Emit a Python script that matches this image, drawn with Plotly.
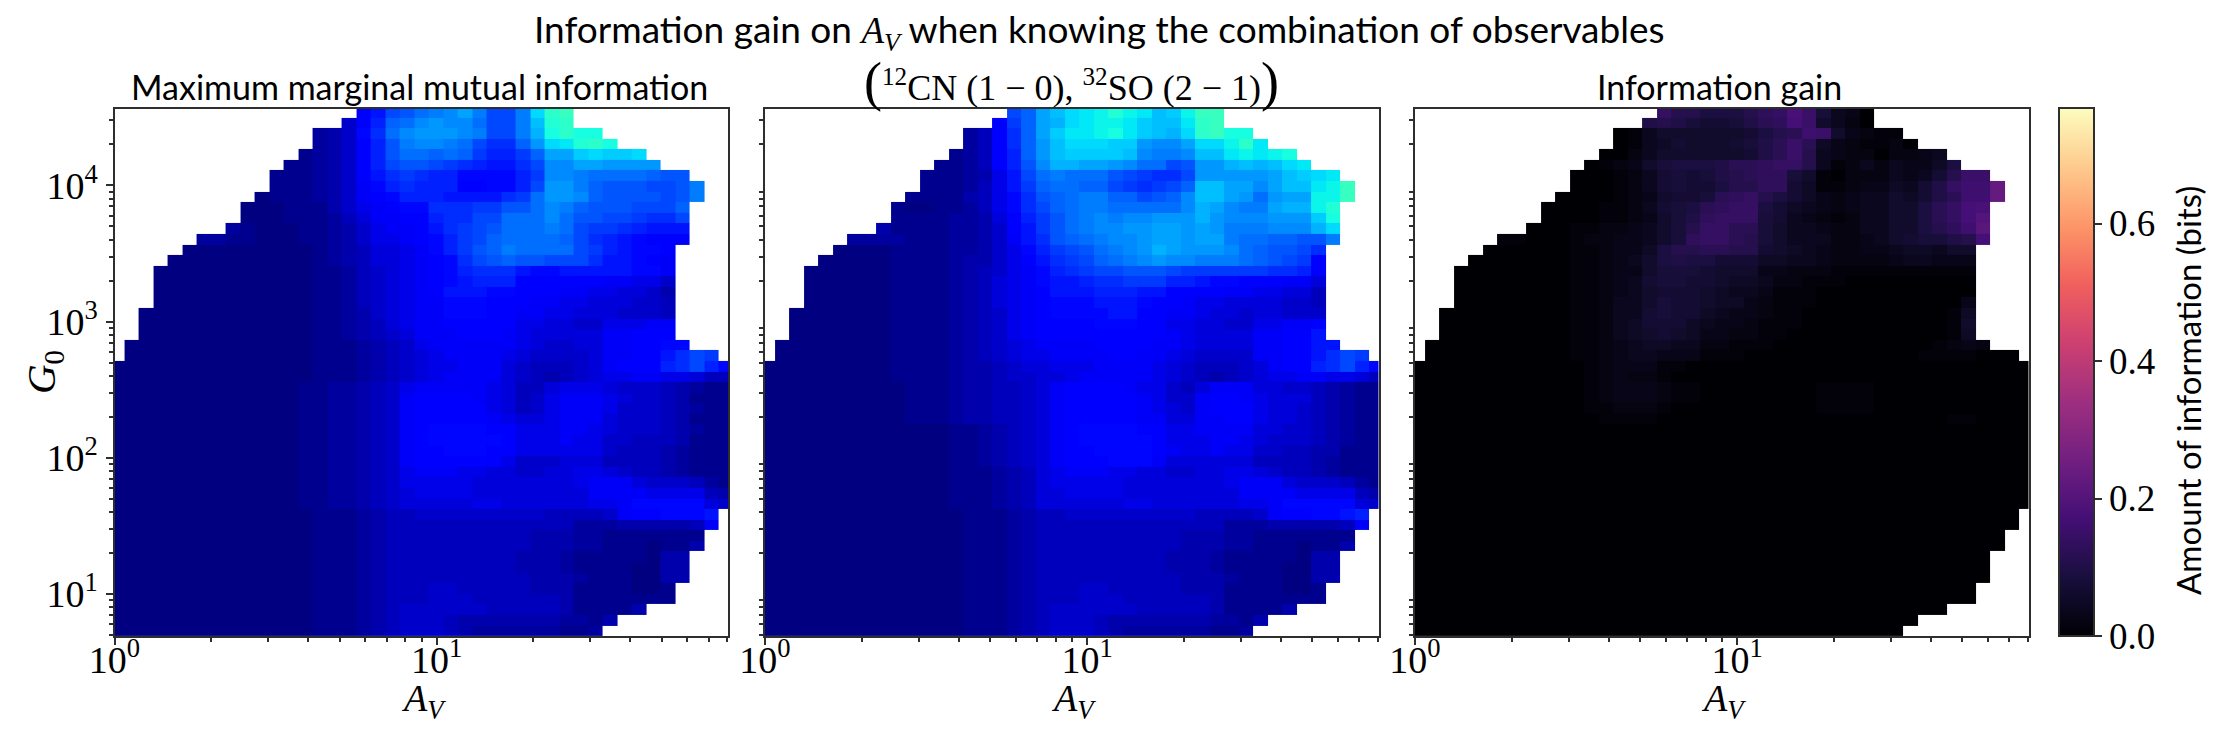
import numpy as np
import plotly.graph_objects as go

N_COLS = 43
ROW_START = [17,16,14,14,13,12,11,11,10,9,9,8,6,5,4,3,3,3,3,2,2,2,1,1] + [0]*26

# cell values, top row first, one base-36 character per cell, in 0.01 bit; spaces are only for reading
MARGINAL = [
"9bfgijkmjffjqvw","59chiklkkiffjouv","235adiklllkjffjntvtt","2359cgjkkjifddhlqruvt",
"12359cgiihiheccehmmpqppq","112359cfggfedcbbdfkkmmllll","1112359bdedccaaaacekkjiiiihgg",
"1112358acdccc99aacflljhgggffgj","011123589acccbbbbdeillkhggggfgj","00011135789aadddeeggikjhgggfffh",
"0001112468899cddffiiikiggffeddf","21000112357889bdefgiiijifeedcbbb","2211000112357789acefhiiiihfdcba999",
"00000 0000 1234 6678 acegh jiiii fecb aa9",
"00000 00000 1234 6678 9adfg hggff fdbba 98",
"000000 00000 11 24 5678 9acddd baabbbbb aa8",
"000000 00000 11 24 5678 9abccc 999999 8877 5",
"000000 00000 11 24 5678 9bbbaa 99988 77 66 5 3",
"000000 00000 11 24 5678 8aaa99 98877 666 55 4",
"0000000 00000 11 23 5678 8aaa99 8877 666 555 4",
"0000000 00000 11 23 4678 899999 7766 55 777 88",
"0000000 00000 11 23 4568 889998 76666 6 88 999",
"00000000 00000 11 12 3457 888888 7655 66 88 99 aa",
"00000000 00000 11 12 3456 788887 65555 6 88 99 bdfe",
"000000000 00000 11 12 3456 778886 54445 6 8 999 cdfca",
"000000000 00000 11 12 3456 788886 54345 6 77 88 77644",
"0000000000000 1122345 78888876 4467 77 6 555 4 3 2 1 1",
"0000000000000 1122345 89999876 4578 88 7 655 4 3 1 1 1",
"0000000000000 1122345 89999976 4578 88 7 555 4 3 2 1 1",
"0000000000000 1122345 89999987 6678 88 6 555 4 3 1 1 1",
"0000000000000 1122345 89aaaa99 7778 87 6 555 4 3 2 1 1",
"0000000000000 1122345 89aaaaa9 7778 77 5 544 4 3 1 1 1",
"0000000000000 1122345 899aaa99 7777 77 5 444 3 2 1 1 1",
"0000000000000 1122345 89999997 5556 66 4 444 3 2 1 1 1",
"0000000000000 1122345 78887766 5566 77 6 544 3 2 1 1 1",
"0000000000000 1122345 77777666 6666 78 8 865 5 5 4 2 1 1",
"0000000000000 1122345 67777666 6666 68 8 887 7 7 7 4 3 2",
"0000000000000 1122345 66666776 6666 67 7 8aa a a a 6 5 5",
"0000000000000 0111234 45555555 5544 44 5 899 a a a b",
"0000000000000 0111234 44444444 4444 22 2 333 3 3 4 8",
"0000000000000 0111234 44444444 4333 22 1 111 1 1 1",
"0000000000000 0111234 44444444 4333 22 1 110 1 1 3",
"0000000000000 0111234 44444444 3332 11 1 110 3 3",
"0000000000000 0111234 44444444 3332 11 1 100 3 3",
"0000000000000 0111234 44444444 4333 21 1 100 3 3",
"0000000000000 0111234 44554444 4333 11 1 100 1",
"0000000000000 0111234 44555444 4443 11 1 111 1",
"0000000000000 0111234 55555544 4443 11 1 13",
"0000000000000 0111234 55543333 3332 21 3",
"0000000000000 0111234 55543222 2221 12",
]

COMBINED = [
"fhmoqrsusropsww","9ehmnqrssrpoorvw","249dhmprrstrponqvwtt","249dhloqqqpplkkmqqsvr",
"1249chloppppokjjkoorsrst","11249cgknnmmlkiifgllnonoqr","111237bfijiiigfeddflllllmopqr",
"1112 47be hiih hfed efh oomm kmoo rsw","1111 347a dghi jjhhf ghk oom li lmm ssw",
"10011 247a dfhi jjiii iikn mkjj mnn su","1111 2236 9ceg ijk jkkl lln lkkk lll pt",
"31111 2235 9beg ijkk llmm lml jjj kkk nq","2222111 2235 8bdg hijkk lmmlmm jiihhggj",
"00001111 2235 7ace fgijk lnm lll kihggfd",
"000001111 2335 79bd efhij kl kk jjj ihgfe 9",
"0000001111 23457 8acde ffggg feeeeee ddc9",
"0000001111 23467 8abbc ddeee ccbaa 99988 6",
"0000001111 23467 89bbb cccbb 9999 88 77 66 4",
"0000001111 23467 89aaa bbba9 98 77 6666 55 4",
"00000001111 23457 89aaa abb99 88 7 66 5 66 555",
"00000001111 23457 89999 aaa99 77 66 55 77 88 9",
"00000001111 23457 89999 99999 87 6666 88 99 b",
"000000001111 2345 6788 88 9999 88 7 6666 88 99 bb",
"000000001111 2345 6778 888 99 88 7 65555 88 99 bdfe",
"0000000001111 233456 67 7 7 8888 7 6 5 444 5 6 8 99 cdfca",
"0000000001111 233455 66 7 8 8888 7 6 5 434 5 6 77 88 77644",
"0000000000111 2334456 89999877 5468 88 6 655 4 3 2 1 1",
"0000000000111 2334456 89999987 5589 98 7 666 4 3 2 1 1",
"0000000000111 2334456 89999987 6589 99 7 665 4 3 2 1 1",
"0000000000111 2334456 89999988 6688 99 7 665 4 3 2 1 1",
"0000000000000 1123456 89aaaa99 7788 88 6 655 4 3 2 1 1",
"0000000000000 1123456 89aaaaa9 7778 87 6 555 4 3 2 1 1",
"0000000000000 1123456 899aaaa9 8778 77 5 544 3 3 1 1 1",
"0000000000000 1123456 8999aaa8 6666 66 4 444 3 2 1 1 1",
"0000000000000 1112346 78887766 5566 77 6 544 3 2 1 1 1",
"0000000000000 1112346 77777666 6666 78 8 865 5 5 4 2 1 1",
"0000000000000 1112346 67777666 6666 68 8 887 7 7 7 4 3 2",
"0000000000000 1112346 66666776 6666 67 7 8aa a a a 6 5 5",
"0000000000000 0111234 45555555 5544 44 5 899 a a b c",
"0000000000000 0111234 44444444 4444 22 2 333 3 3 4 8",
"0000000000000 0111234 44444444 4333 22 1 111 1 1 1",
"0000000000000 0111234 44444444 4333 22 1 110 1 1 3",
"0000000000000 0111234 44444444 3332 11 1 110 3 3",
"0000000000000 0111234 44444444 3332 11 1 100 3 3",
"0000000000000 0111234 44444444 4333 21 1 100 3 3",
"0000000000000 0111234 44554444 4333 11 1 100 1",
"0000000000000 0111234 44555444 4443 11 1 111 1",
"0000000000000 0111234 55555544 4443 11 1 13",
"0000000000000 0111234 55543333 3332 21 3",
"0000000000000 0111234 55543222 2221 12",
]

GAIN = [
"ebb999bdeif8430","aba8778acdhf6420","01466666679bcgf63211","014576667 8acfc5321120",
"0024 66666 67acfb 432202234","01236 8999 accdeeb 412424 3359","000124 7878 abcdd 86102 22434 7bff",
"000124 7877 9bbdd 75112 33547 aeggn","00001236 778cdeb 97532 34465 7acggn",
"00001124 789cdee 97543 23446 69cehi","00001123 68adeee 87432 12446 69cehk",
"00011223 468beecc 86443 22446 69bdgl","1100012233 468dee cb864 44223 46788abh",
"000000 11233 59bbccbb 76543 22334 55466",
"0000000 11234 69a99 777 554 43 2222 344 333",
"00000000 11233 68887 666 33222 1111111111",
"00000000 11234 78877 6554 22111 000000000",
"00000000 11234 67776 5443 111 00000000000",
"00000000 11244 68776 5532 111 0000000000 3",
"000000000 11244 78775 4332 11 0000000000 15",
"000000000 11245 77754 3321 11 0000000000 16",
"000000000 11245 67653 322 11 00000000000 15",
"0000000000 11234 55442 2111 00000000000 1232",
"0000000000 11234 43331 11 000000000000 1111 000",
"000000000000 1233311 000000000000 000000000000",
"000000000000 1232210 000000000000 000000000000",
"000000000000 12333211 00000000 1111 00000000000",
"000000000000 12333211 00000000 1111 00000000000",
"000000000000 11222100 00000000 1111 00000000000",
"0000000000000 1111 00000000000000000000 11 0000",
"0000000000 0000000000 0000000000 0000000000 000","0000000000 0000000000 0000000000 0000000000 000",
"0000000000 0000000000 0000000000 0000000000 000","0000000000 0000000000 0000000000 0000000000 000",
"0000000000 0000000000 0000000000 0000000000 000","0000000000 0000000000 0000000000 0000000000 000",
"0000000000 0000000000 0000000000 0000000000 000","0000000000 0000000000 0000000000 0000000000 000",
"0000000000 0000000000 0000000000 0000000000 00","0000000000 0000000000 0000000000 0000000000 00",
"0000000000 0000000000 0000000000 0000000000 0","0000000000 0000000000 0000000000 0000000000 0",
"0000000000 0000000000 0000000000 0000000000","0000000000 0000000000 0000000000 0000000000","0000000000 0000000000 0000000000 0000000000",
"0000000000 0000000000 0000000000 000000000","0000000000 0000000000 0000000000 000000000",
"0000000000 0000000000 0000000000 0000000","0000000000 0000000000 0000000000 00000","0000000000 0000000000 0000000000 0000",
]

PANEL_TITLES = ["Maximum marginal mutual information",
                "<span style='font-size:54px'>(</span><sup>12</sup>CN (1 − 0), <sup>32</sup>SO (2 − 1)<span style='font-size:54px'>)</span>",
                "Information gain"]
SUPTITLE = "Information gain on <span style='font-family:Liberation Serif'><i>A<sub>V</sub></i></span> when knowing the combination of observables"
CBAR_TITLE = "Amount of information (bits)"
X_TITLE = "<i>A<sub>V</sub></i>"
Y_TITLE = "<i>G</i><sub>0</sub>"
CBAR_TICKS = [0.0, 0.2, 0.4, 0.6]
Z_MAX = 0.768

JET = [[0,"rgb(0,0,128)"],[.11,"rgb(0,0,255)"],[.125,"rgb(0,0,255)"],[.34,"rgb(0,219,255)"],[.35,"rgb(0,230,247)"],
       [.375,"rgb(21,255,226)"],[.64,"rgb(239,255,8)"],[.65,"rgb(247,245,0)"],[.66,"rgb(255,236,0)"],
       [.89,"rgb(255,19,0)"],[.91,"rgb(232,0,0)"],[1,"rgb(128,0,0)"]]

def decode(rows):
    out = []
    for start, row in zip(ROW_START, rows):
        vals = [int(c, 36) / 100 for c in row.replace(" ", "")]
        line = [None] * start + vals
        line = (line + [None] * N_COLS)[:N_COLS]
        out.append(line)
    return out[::-1]

x_edges = [10 ** (0.0296 + (i - 1) * 0.04505) for i in range(N_COLS + 1)]
y_edges = [10 ** (0.6907 + k * 0.0777) for k in range(len(MARGINAL) + 1)]

W, H = 2224, 737
L = [114.5, 765, 1415]
PW = 613.5
TOP, BOT = 108.5, 636
INK = "#2e2e2e"
SANS = "Lato"
SERIF = "Liberation Serif"

fig = go.Figure()
for i, (rows, cs) in enumerate([(MARGINAL, JET), (COMBINED, JET), (GAIN, "Magma")]):
    n = "" if i == 0 else str(i + 1)
    if i == 2:
        kw = dict(showscale=True, colorbar=dict(
            x=2059 / W, xanchor="left", xpad=0, ypad=0, y=(H - BOT) / H, yanchor="bottom", len=(BOT - TOP) / H,
            thickness=35, outlinewidth=2, outlinecolor=INK, ticks="outside", ticklen=7, tickwidth=2, tickcolor=INK,
            tickvals=CBAR_TICKS, ticktext=["%.1f" % v for v in CBAR_TICKS],
            tickfont=dict(family=SERIF, size=37, color="black")))
    else:
        kw = dict(showscale=False)
    fig.add_trace(go.Heatmap(z=decode(rows), x=x_edges, y=y_edges, colorscale=cs, zmin=0, zmax=Z_MAX,
                             xaxis="x" + n, yaxis="y" + n, hoverongaps=False, **kw))
    minor_x = [m * 10 ** d for d in (0, 1) for m in range(2, 10) if m * 10 ** d < 80.5]
    minor_y = [m * 10 ** d for d in range(0, 5) for m in range(2, 10) if 4.9 < m * 10 ** d < 36700]
    ax_common = dict(type="log", showgrid=False, zeroline=False, showline=True, mirror=True, linecolor=INK, linewidth=2)
    yaxis = dict(ax_common, domain=[(H - BOT) / H, (H - TOP) / H], range=[0.691, 4.564], anchor="x" + n,
                 tickmode="array", tickvals=[10, 100, 1000, 10000],
                 ticks="outside", ticklen=7 if i == 0 else 0, tickwidth=2, tickcolor=INK,
                 minor=dict(tickmode="array", tickvals=minor_y, ticks="outside", ticklen=4, tickwidth=1.5, tickcolor=INK))
    if i == 0:
        yaxis.update(ticktext=["10<sup>1</sup>", "10<sup>2</sup>", "10<sup>3</sup>", "10<sup>4</sup>"],
                     tickfont=dict(family=SERIF, size=38, color="black"))
    else:
        yaxis.update(showticklabels=False)
    fig.update_layout(**{
        "xaxis" + n: dict(ax_common, domain=[L[i] / W, (L[i] + PW) / W], range=[0, 1.905], anchor="y" + n,
                          tickmode="array", tickvals=[1, 10], ticktext=["10<sup>0</sup>", "10<sup>1</sup>"],
                          ticks="outside", ticklen=7, tickwidth=2, tickcolor=INK, ticklabelstandoff=-18,
                          tickfont=dict(family=SERIF, size=38, color="black"),
                          minor=dict(tickmode="array", tickvals=minor_x, ticks="outside", ticklen=4, tickwidth=1.5, tickcolor=INK)),
        "yaxis" + n: yaxis,
    })

ann = [
    dict(text=SUPTITLE, x=1099, y=31, font=dict(family=SANS, size=37, color="black")),
    dict(text=PANEL_TITLES[0], x=419, y=86, font=dict(family=SANS, size=34, color="black")),
    dict(text=PANEL_TITLES[1], x=1071, y=82, font=dict(family=SERIF, size=36, color="black")),
    dict(text=PANEL_TITLES[2], x=1719, y=86, font=dict(family=SANS, size=34, color="black")),
    dict(text=X_TITLE, x=423, y=701, font=dict(family=SERIF, size=38, color="black")),
    dict(text=X_TITLE, x=1073, y=701, font=dict(family=SERIF, size=38, color="black")),
    dict(text=X_TITLE, x=1723, y=701, font=dict(family=SERIF, size=38, color="black")),
    dict(text=Y_TITLE, x=44, y=372, textangle=-90, font=dict(family=SERIF, size=41, color="black")),
    dict(text=CBAR_TITLE, x=2188, y=391, textangle=-90, font=dict(family=SANS, size=33, color="black")),
]
fig.update_layout(
    width=W, height=H, margin=dict(l=0, r=0, t=0, b=0, autoexpand=False),
    paper_bgcolor="white", plot_bgcolor="white",
    annotations=[dict(a, xref="paper", yref="paper", xanchor="center", yanchor="middle", showarrow=False,
                      x=a["x"] / W, y=1 - a["y"] / H) for a in ann],
)
fig.write_html("out.html", config=dict(displayModeBar=False),
               post_script="document.body.style.margin='0';document.body.style.overflow='hidden';")
